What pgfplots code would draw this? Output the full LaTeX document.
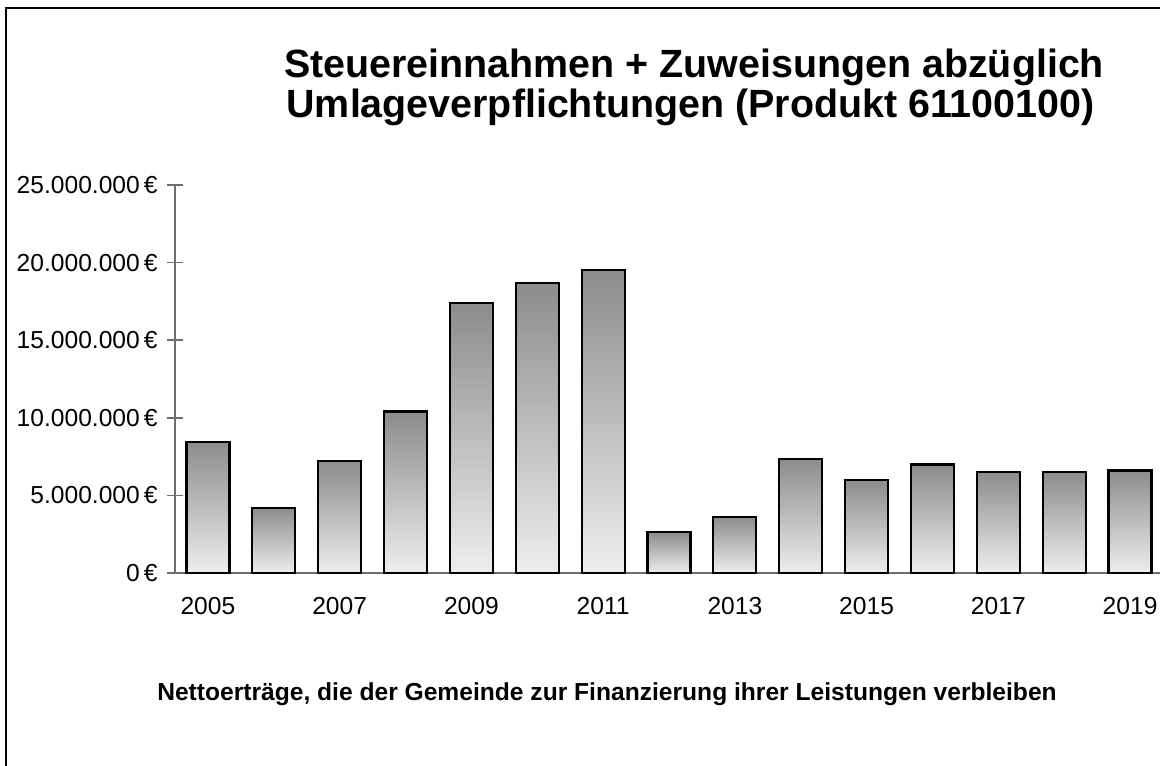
\documentclass[border=0pt]{standalone}
\usepackage{pgfplots}
\pgfplotsset{compat=1.18}
\usepackage{fontspec}
\setmainfont{Liberation Sans}
\definecolor{axisgray}{HTML}{6E6E6E}
\definecolor{bartop}{HTML}{8C8C8C}
\definecolor{barbot}{HTML}{EEEEEE}
\pgfplotsset{barsty/.style={ybar, bar width=21.5pt, draw=black, line width=1.1pt, top color=bartop, bottom color=barbot}}
\begin{document}
\begin{tikzpicture}
\path[use as bounding box] (0pt,0pt) rectangle (580pt,-382.5pt);
\draw[line width=1.2pt] (3pt,-4pt) rectangle (600pt,-400pt);
\node[anchor=base,font=\bfseries\fontsize{19.7}{24}\selectfont] at (347pt,-39pt) {Steuereinnahmen + Zuweisungen abzüglich};
\node[anchor=base,font=\bfseries\fontsize{19.7}{24}\selectfont] at (345.25pt,-59pt) {Umlageverpflichtungen (Produkt 61100100)};
\node[anchor=base,font=\bfseries\fontsize{12.3}{14}\selectfont] at (303.5pt,-350pt) {Nettoerträge, die der Gemeinde zur Finanzierung ihrer Leistungen verbleiben};
\begin{axis}[
  at={(87.5pt,-286.5pt)}, anchor=south west,
  scale only axis, width=494pt, height=194pt,
  xmin=2004.5, xmax=2019.5, ymin=0, ymax=25000000,
  scaled y ticks=false,
  axis lines*=left,
  axis line style={draw=axisgray, line width=0.8pt},
  clip=false,
  tick align=center,
  major tick length=8pt,
  minor tick length=6.5pt,
  tick style={draw=axisgray, line width=0.8pt},
  xtick={2005,2007,2009,2011,2013,2015,2017,2019},
  xticklabels={2005,2007,2009,2011,2013,2015,2017,2019},
  xtick style={draw=none},
  minor xtick={2004.5,2005.5,2006.5,2007.5,2008.5,2009.5,2010.5,2011.5,2012.5,2013.5,2014.5,2015.5,2016.5,2017.5,2018.5,2019.5},
  minor tick style={draw=axisgray, line width=0.8pt},
  ytick={0,5000000,10000000,15000000,20000000,25000000},
  yticklabels={0\,€,5.000.000\,€,10.000.000\,€,15.000.000\,€,20.000.000\,€,25.000.000\,€},
  ticklabel style={font=\fontsize{12.3}{14}\selectfont, text=black},
  yticklabel style={anchor=east, inner sep=0pt, xshift=-4.5pt},
  xticklabel style={anchor=north, inner sep=0pt, yshift=-8pt},
]
\addplot[barsty] coordinates {(2005,8450000)};
\addplot[barsty] coordinates {(2006,4190000)};
\addplot[barsty] coordinates {(2007,7230000)};
\addplot[barsty] coordinates {(2008,10410000)};
\addplot[barsty] coordinates {(2009,17380000)};
\addplot[barsty] coordinates {(2010,18670000)};
\addplot[barsty] coordinates {(2011,19510000)};
\addplot[barsty] coordinates {(2012,2620000)};
\addplot[barsty] coordinates {(2013,3610000)};
\addplot[barsty] coordinates {(2014,7350000)};
\addplot[barsty] coordinates {(2015,5970000)};
\addplot[barsty] coordinates {(2016,6990000)};
\addplot[barsty] coordinates {(2017,6510000)};
\addplot[barsty] coordinates {(2018,6510000)};
\addplot[barsty] coordinates {(2019,6600000)};
\end{axis}
\end{tikzpicture}
\end{document}
